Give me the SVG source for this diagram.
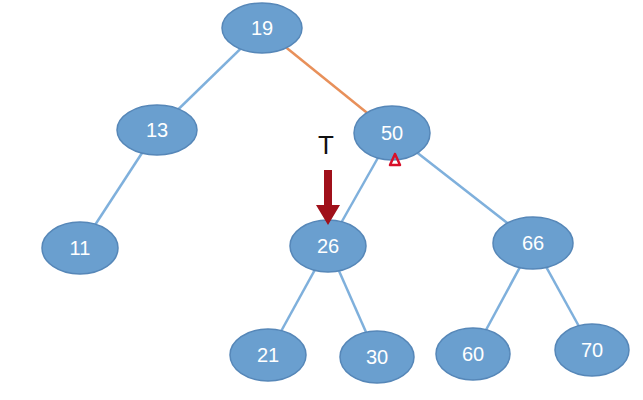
<svg xmlns="http://www.w3.org/2000/svg" width="643" height="400" viewBox="0 0 643 400">
<style>
.n ellipse{fill:#6a9fcf;stroke:#5687b8;stroke-width:1.5}
.n text{font-family:"Liberation Sans",Arial,sans-serif;font-size:20px;fill:#fff;text-anchor:middle;dominant-baseline:central}
.e line{stroke:#7fb0dc;stroke-width:2.5}
</style>
<rect width="643" height="400" fill="#fff"/>
<g id="connectors" class="e">
<line x1="262" y1="28" x2="157" y2="130"/>
<line x1="262" y1="28" x2="392" y2="133" style="stroke:#e8905a"/>
<line x1="157" y1="130" x2="80" y2="248"/>
<line x1="392" y1="133" x2="328" y2="246"/>
<line x1="392" y1="133" x2="533" y2="243"/>
<line x1="328" y1="246" x2="268" y2="355"/>
<line x1="328" y1="246" x2="377" y2="357"/>
<line x1="533" y1="243" x2="473" y2="354"/>
<line x1="533" y1="243" x2="592" y2="350"/>
</g>
<g id="n19" class="n"><ellipse cx="262" cy="28" rx="40" ry="25"/><text x="262" y="28">19</text></g>
<g id="n13" class="n"><ellipse cx="157" cy="130" rx="40" ry="25"/><text x="157" y="130">13</text></g>
<g id="n50" class="n"><ellipse cx="392" cy="133" rx="38" ry="27"/><text x="392" y="133">50</text></g>
<g id="n11" class="n"><ellipse cx="80" cy="248" rx="38" ry="26"/><text x="80" y="248">11</text></g>
<g id="n26" class="n"><ellipse cx="328" cy="246" rx="38" ry="26"/><text x="328" y="246">26</text></g>
<g id="n66" class="n"><ellipse cx="533" cy="243" rx="40" ry="26"/><text x="533" y="243">66</text></g>
<g id="n21" class="n"><ellipse cx="268" cy="355" rx="38" ry="26"/><text x="268" y="355">21</text></g>
<g id="n30" class="n"><ellipse cx="377" cy="357" rx="37" ry="26"/><text x="377" y="357">30</text></g>
<g id="n60" class="n"><ellipse cx="473" cy="354" rx="37" ry="26"/><text x="473" y="354">60</text></g>
<g id="n70" class="n"><ellipse cx="592" cy="350" rx="37" ry="26"/><text x="592" y="350">70</text></g>
<text x="326" y="154" font-family="Liberation Sans,Arial,sans-serif" font-size="26" text-anchor="middle" fill="#111">T</text>
<path d="M324 170H332V205H340L328 225L316 205H324Z" fill="#a0101a"/>
<path d="M390 165L400 165L395 154Z" fill="none" stroke="#d8102a" stroke-width="2.5" stroke-linejoin="round"/>
</svg>
